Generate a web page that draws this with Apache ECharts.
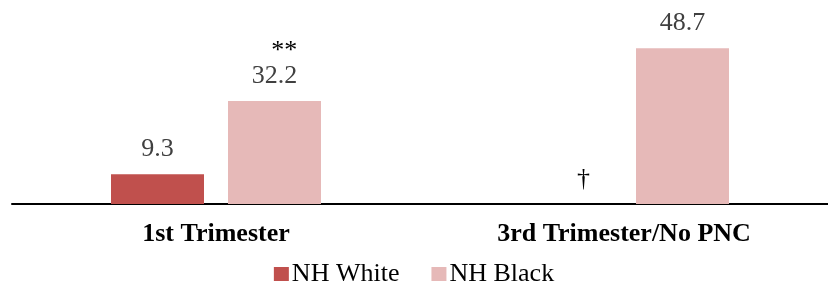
<!DOCTYPE html>
<html>
<head>
<meta charset="utf-8">
<script src="https://cdn.jsdelivr.net/npm/echarts@6/dist/echarts.min.js"></script>
<style>html,body{margin:0;padding:0;background:#fff;}#c{width:828px;height:283px;}</style>
</head>
<body>
<div id="c"></div>
<script>
var categories = ['1st Trimester', '3rd Trimester/No PNC'];
var seriesNames = ['NH White', 'NH Black'];
var whiteValues = [9.3, null];
var blackValues = [32.2, 48.7];
var whiteNotes = ['', '\u2020'];
var blackNotes = ['**', ''];

var FONT = '"Liberation Serif", "Times New Roman", serif';

function buildData(values, notes) {
  return values.map(function (v, i) {
    var item = { value: v == null ? 0 : v, note: notes[i], missing: v == null };
    if (v == null) {
      item.label = { offset: [18, 0] };
    }
    return item;
  });
}

function fmt(p) {
  var d = p.data;
  if (d.missing) return '{n|' + d.note + '}';
  var val = d.value.toFixed(1);
  if (d.note) return '{s|' + d.note + '}\n{v|' + val + '}';
  return '{v|' + val + '}';
}

var rich = {
  v: { fontFamily: FONT, fontSize: 26, color: '#404040', lineHeight: 26 },
  s: { fontFamily: FONT, fontSize: 26, color: '#000', lineHeight: 24, align: 'right' },
  n: { fontFamily: FONT, fontSize: 26, color: '#000', lineHeight: 26 }
};

var chart = echarts.init(document.getElementById('c'), null, { renderer: 'canvas' });
chart.setOption({
  animation: false,
  backgroundColor: '#fff',
  grid: { left: 12, width: 824, top: 12, bottom: 79, containLabel: false },
  legend: {
    data: seriesNames,
    left: 'center',
    top: 256,
    itemWidth: 15,
    itemHeight: 14,
    itemGap: 32,
    textStyle: { fontFamily: FONT, fontSize: 26, color: '#000', padding: [0, 0, 0, -2] },
    icon: 'rect'
  },
  xAxis: {
    type: 'category',
    data: categories,
    axisLine: { lineStyle: { color: '#000', width: 2 } },
    axisTick: { show: false },
    axisLabel: { fontFamily: FONT, fontSize: 26, fontWeight: 'bold', color: '#000', margin: 17 }
  },
  yAxis: { type: 'value', min: 0, max: 60, show: false, splitLine: { show: false } },
  series: [
    {
      name: seriesNames[0], type: 'bar', barWidth: 93, barGap: '25.8%',
      itemStyle: { color: '#C0504D' },
      label: { show: true, position: 'top', distance: 12, formatter: fmt, rich: rich },
      data: buildData(whiteValues, whiteNotes)
    },
    {
      name: seriesNames[1], type: 'bar', barWidth: 93, barGap: '25.8%',
      itemStyle: { color: '#E6B9B8' },
      label: { show: true, position: 'top', distance: 12, formatter: fmt, rich: rich },
      data: buildData(blackValues, blackNotes)
    }
  ]
});
</script>
</body>
</html>
